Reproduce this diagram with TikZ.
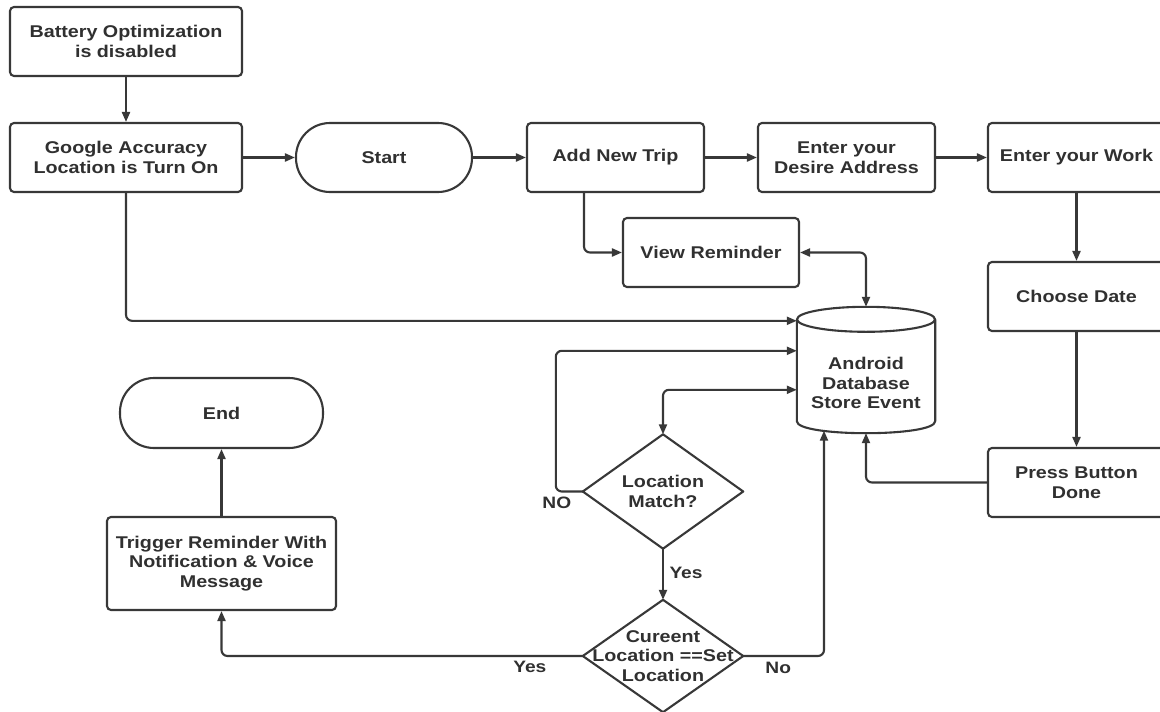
\documentclass[tikz,border=0pt]{standalone}
\usepackage{fontspec}
\setmainfont[FakeStretch=1.16]{Liberation Sans}
\usetikzlibrary{arrows.meta,calc}
\definecolor{ln}{HTML}{383838}
\definecolor{tx}{HTML}{303030}
\tikzset{
  nodebase/.style={draw=ln, line width=2.1pt, fill=white, text=tx,
    font=\fontsize{17}{19.5}\selectfont\bfseries, align=center, inner sep=0pt, minimum height=69pt},
  box/.style={nodebase, rounded corners=4pt},
  term/.style={nodebase, rounded corners=34pt},
  dia/.style={draw=none, text=tx, font=\fontsize{17}{19.5}\selectfont\bfseries, align=center,
    inner sep=0pt, minimum width=160pt},
  shapeline/.style={draw=ln, line width=2.1pt, fill=white, line join=round},
  conn/.style={draw=ln, line width=2.1pt, -{Triangle[length=10pt,width=8pt]}, rounded corners=6pt},
  dconn/.style={draw=ln, line width=2.1pt, {Triangle[length=10pt,width=8pt]}-{Triangle[length=10pt,width=8pt]}, rounded corners=6pt},
  lbl/.style={text=tx, font=\fontsize{16.5}{18}\selectfont\bfseries, inner sep=0pt}
}
\begin{document}
\begin{tikzpicture}[x=1pt,y=-1pt]
\fill[white] (0,0) rectangle (1160,712);
\useasboundingbox (0,0) rectangle (1160,712);

% nodes
\node[box, minimum width=232pt] (bat) at (126,41.5) {Battery Optimization\\is disabled};
\node[box, minimum width=232pt] (goo) at (126,157.5) {Google Accuracy\\Location is Turn On};
\node[term, minimum width=176pt] (start) at (384,157.5) {Start};
\node[box, minimum width=177pt] (add) at (615.5,157.5) {Add New Trip\vphantom{g}};
\node[box, minimum width=177pt] (des) at (846.5,157.5) {Enter your\\Desire Address};
\node[box, minimum width=177pt] (work) at (1076.5,157.5) {Enter your Work};
\node[box, minimum width=176pt] (view) at (711,252.5) {View Reminder};
\node[box, minimum width=177pt] (choose) at (1076.5,296.5) {Choose Date};
\node[box, minimum width=177pt] (press) at (1076.5,482.5) {Press Button\\Done};
\node[term, minimum width=203pt, minimum height=70pt] (endn) at (221.5,413) {End};
\node[box, minimum width=229pt, minimum height=93pt] (trig) at (221.5,563.5) {Trigger Reminder With\\Notification \& Voice\\Message};

% database cylinder
\node[draw=none, minimum width=138pt, minimum height=126pt, inner sep=0pt] (db) at (866,370) {};
\draw[shapeline] ($(db.north west)+(0,12.5)$) -- ($(db.south west)+(0,-12)$)
   .. controls ($(db.south west)+(0,4)$) and ($(db.south east)+(0,4)$) .. ($(db.south east)+(0,-12)$)
   -- ($(db.north east)+(0,12.5)$);
\draw[shapeline] ($(db.north)+(0,12.5)$) ellipse [x radius=69, y radius=12.5];
\node[text=tx, font=\fontsize{17}{19.5}\selectfont\bfseries, align=center, inner sep=0pt] (dbtext) at (866,383) {Android\\Database\\Store Event};
\coordinate (dbb) at ($(db.south)+(-42,-2.5)$);

% diamonds
\node[dia, minimum height=114pt] (lm) at (663,491.5) {};
\draw[shapeline] (lm.north) -- (lm.east) -- (lm.south) -- (lm.west) -- cycle;
\node[text=tx, font=\fontsize{17}{19.5}\selectfont\bfseries, align=center, inner sep=0pt] (lmtext) at (lm.center) {Location\\Match?};
\node[dia, minimum height=112pt] (cl) at (663,656) {};
\draw[shapeline] (cl.north) -- (cl.east) -- (cl.south) -- (cl.west) -- cycle;
\node[text=tx, font=\fontsize{17}{19.5}\selectfont\bfseries, align=center, inner sep=0pt] (cltext) at (cl.center) {Cureent\\Location ==Set\\Location};

% connectors
\draw[conn] (bat) -- (goo);
\draw[conn] (goo) -- (start);
\draw[conn] (start) -- (add);
\draw[conn] (add) -- (des);
\draw[conn] (des) -- (work);
\draw[conn] ($(add.south)+(-31.5,0)$) |- (view.west);
\draw[dconn] (view.east) -| (db.north);
\draw[conn] (goo.south) |- ($(db.north west)+(0,14)$);
\draw[conn] (work) -- (choose);
\draw[conn] (choose) -- (press);
\draw[conn] (press.west) -| (db.south);
\draw[conn] (lm.west) -- ++(-27,0) |- ($(db.north west)+(0,44)$);
\draw[dconn] (lm.north) |- ($(db.north west)+(0,83)$);
\draw[conn] (lm.south) -- (cl.north);
\draw[conn] (cl.east) -| (dbb);
\draw[conn] (cl.west) -| (trig.south);
\draw[conn] (trig) -- (endn);

% labels
\node[lbl] (lno) at ($(lm.west)+(-26,11)$) {NO};
\node[lbl] (lyes1) at ($(lm.south)+(23,24)$) {Yes};
\node[lbl] (lno2) at ($(cl.east)+(35,12)$) {No};
\node[lbl] (lyes2) at ($(cl.west)+(-53,11)$) {Yes};
\end{tikzpicture}
\end{document}
